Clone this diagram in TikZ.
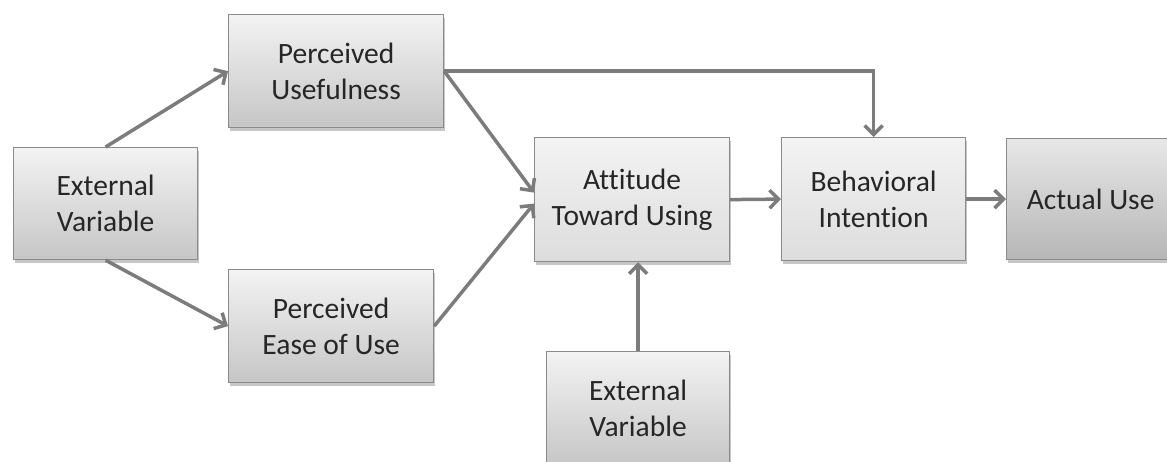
\documentclass[tikz,border=0pt]{standalone}
\usepackage{fontspec}
\setmainfont{Carlito}[Ligatures={NoCommon}]
\usetikzlibrary{arrows.meta,shadows}
\definecolor{boxtop}{HTML}{F3F3F3}
\definecolor{boxbot}{HTML}{C6C6C6}
\definecolor{boxline}{HTML}{8A8A8A}
\definecolor{arrowc}{HTML}{7C7C7C}
\colorlet{lighttop}{boxtop}
\colorlet{lightbot}{boxbot!60!white}
\colorlet{darktop}{boxtop!90!gray}
\colorlet{darkbot}{boxbot!92!black}
\tikzset{
  tambox/.style={draw=boxline, line width=1.2pt, top color=boxtop, bottom color=boxbot,
    anchor=north west, inner sep=0pt, align=center, text=black!85,
    font=\fontsize{29.5}{36}\selectfont,
    drop shadow={shadow xshift=1.5pt, shadow yshift=-3pt, fill=black, opacity=0.22}},
  lightbox/.style={tambox, top color=lighttop, bottom color=lightbot},
  darkbox/.style={tambox, top color=darktop, bottom color=darkbot},
  conn/.style={draw=arrowc, line width=3.5pt, -{Straight Barb[length=9pt,width=18pt]}},
}
\begin{document}
\begin{tikzpicture}[x=1pt,y=-1pt]
\useasboundingbox (0,0) rectangle (1167,461);
\node[tambox, minimum width=184pt, minimum height=112pt] (ev1) at (13,147) {External\\Variable};
\node[tambox, minimum width=215pt, minimum height=113pt] (pu) at (228,14) {Perceived\\Usefulness};
\node[tambox, minimum width=205pt, minimum height=113pt] (peu) at (228,269) {Perceived\\Ease of Use};
\node[lightbox, minimum width=195pt, minimum height=124pt] (att) at (534,137) {Attitude\\Toward Using};
\node[lightbox, minimum width=184pt, minimum height=123pt] (bi) at (781,137) {Behavioral\\Intention};
\node[darkbox, minimum width=168pt, minimum height=121pt] (au) at (1006,138) {Actual Use};
\node[tambox, minimum width=183pt, minimum height=114pt] (ev2) at (546,351) {External\\Variable};
\draw[conn] (ev1.north) -- (pu.west);
\draw[conn] (ev1.south) -- (peu.west);
\draw[conn] (pu.east) -- ([yshift=7pt]att.west);
\draw[conn] (peu.east) -- ([yshift=-4pt]att.west);
\draw[conn] (pu.east) -| (bi.north);
\draw[conn] (att.east) -- (bi.west);
\draw[conn] (bi.east) -- (bi.east -| au.west);
\draw[conn] (ev2.north) -- (ev2.north |- att.south);
\end{tikzpicture}
\end{document}
